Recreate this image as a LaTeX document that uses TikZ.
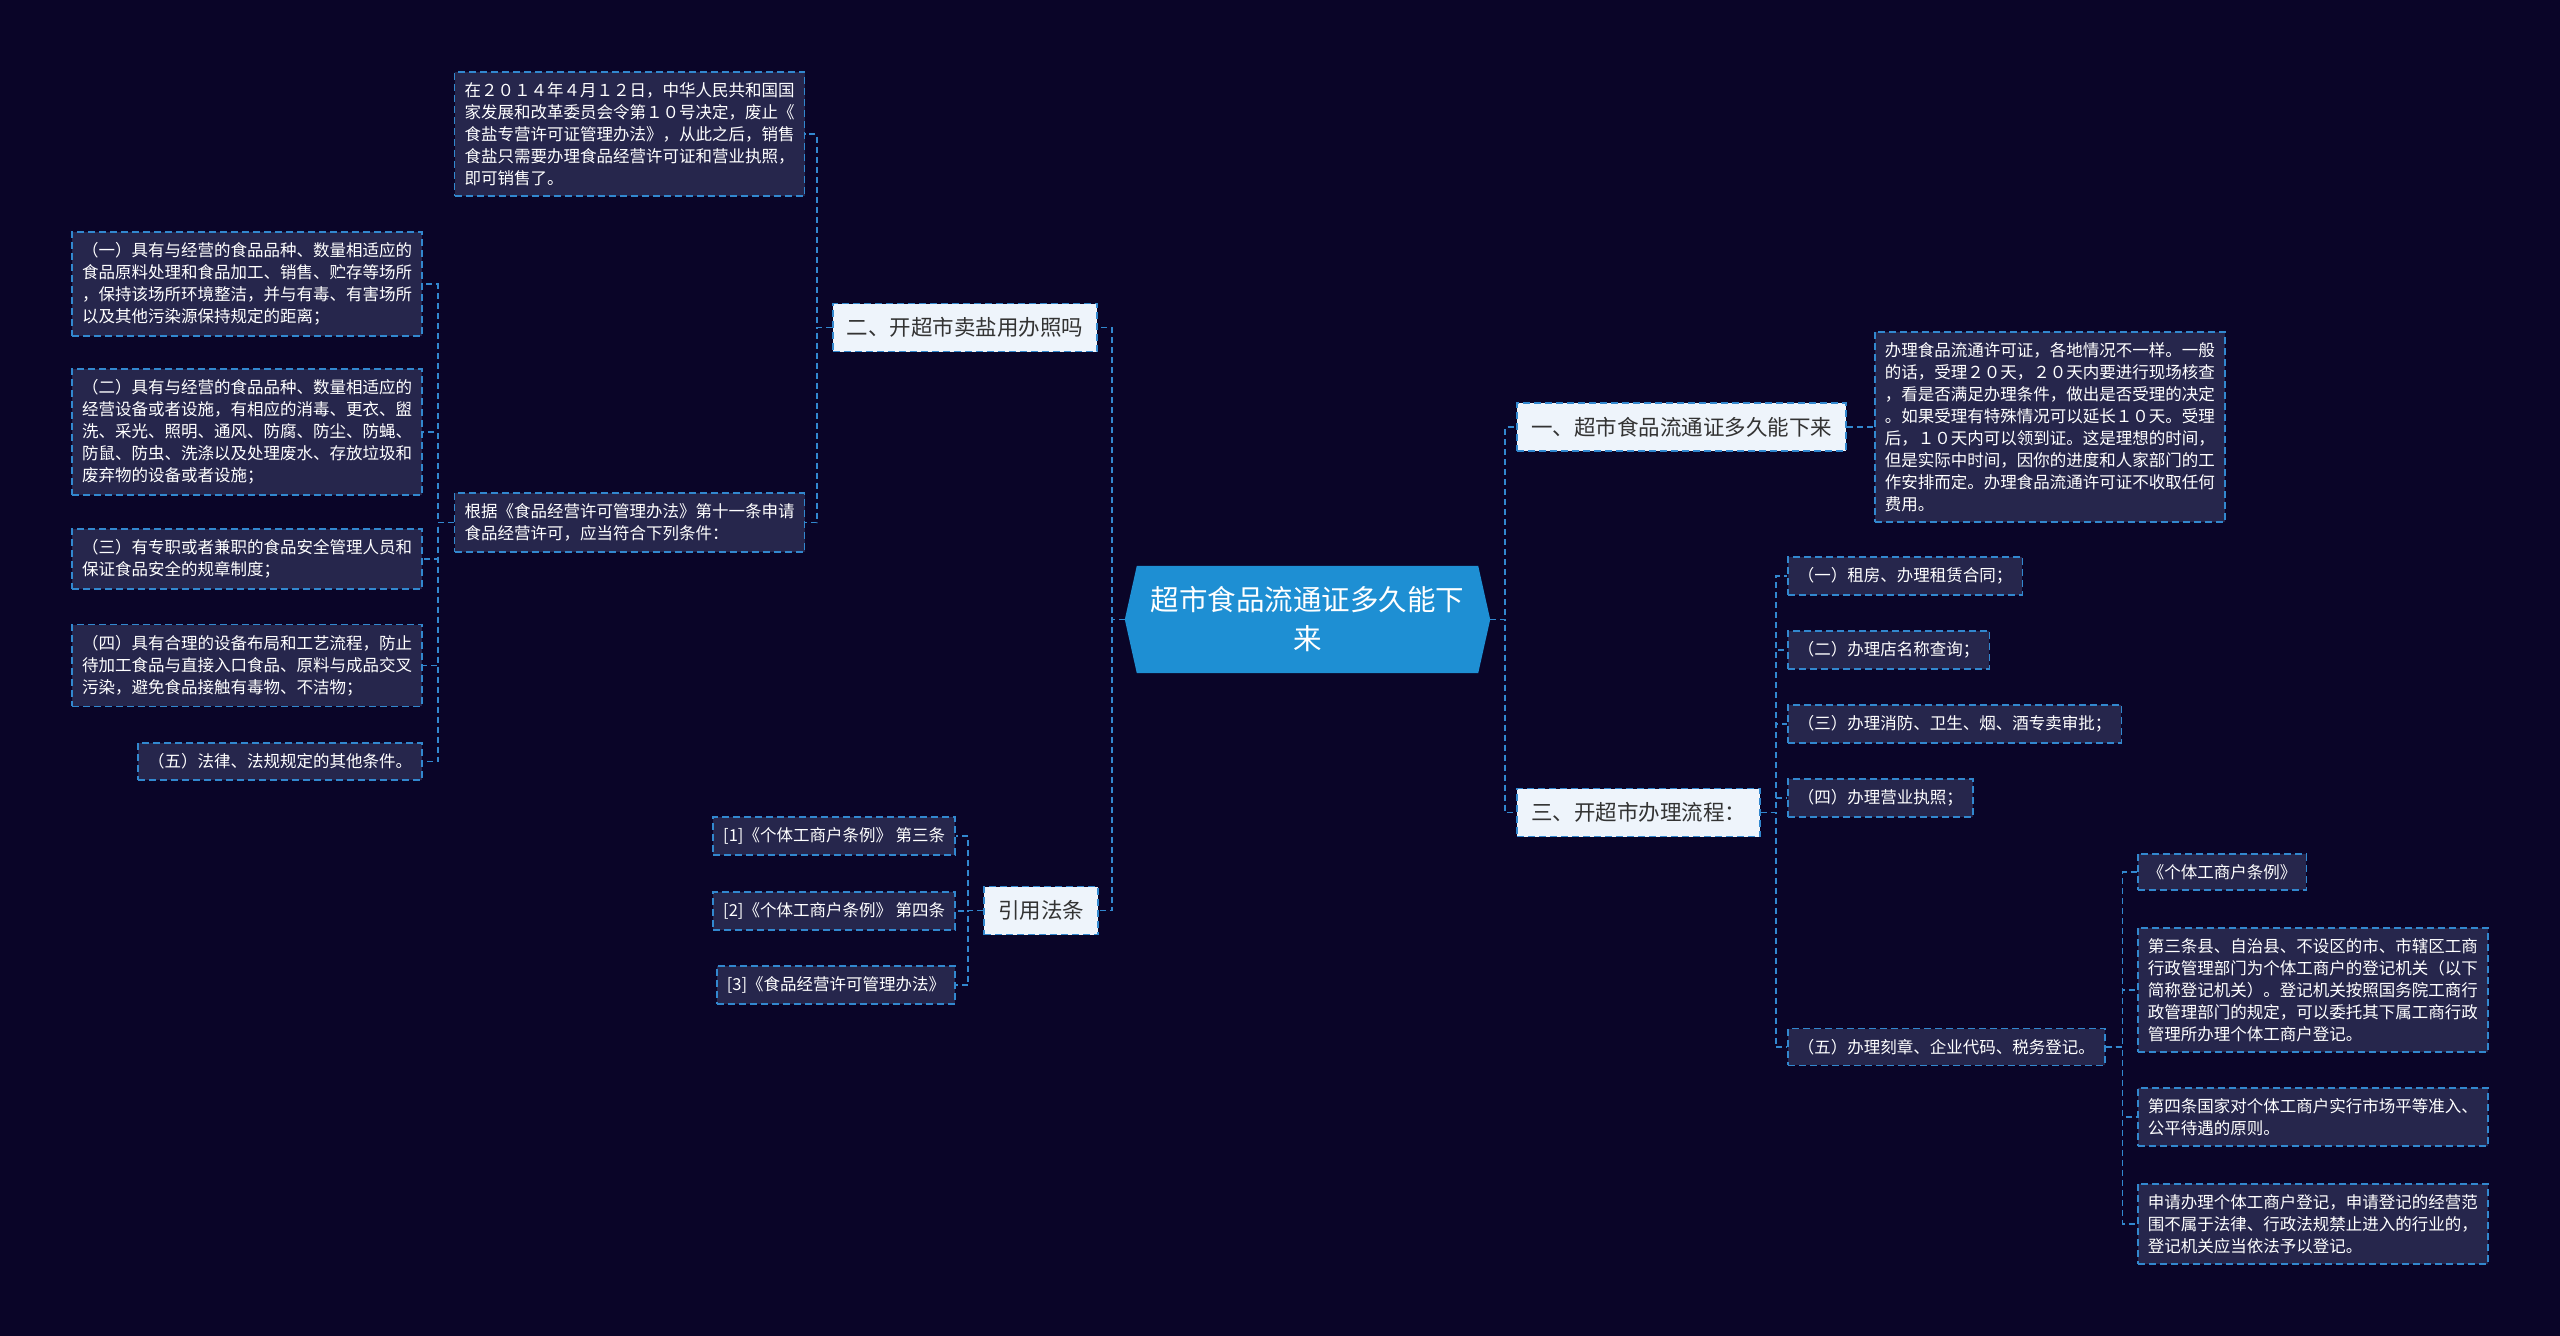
\documentclass[tikz,border=0pt]{standalone}
\usepackage{fontspec}
\setmainfont{Noto Sans CJK SC}
\usetikzlibrary{backgrounds}
\definecolor{bgc}{HTML}{0A0528}
\definecolor{lnc}{HTML}{3288CF}
\definecolor{leafc}{HTML}{26264C}
\definecolor{brc}{HTML}{EEF4FB}
\definecolor{ctc}{HTML}{1E8FD3}
\definecolor{txc}{HTML}{333333}
\begin{document}
\begin{tikzpicture}[x=1pt,y=-1pt,
  conn/.style={draw=lnc, line width=1.6pt, dash pattern=on 6pt off 4pt},
  leafbox/.style={draw=lnc, line width=1.6pt, dash pattern=on 7pt off 4pt, fill=leafc, text=white, align=left, inner xsep=10pt, inner ysep=10.5pt, font=\fontsize{16.5}{22}\selectfont},
  branchbox/.style={draw=lnc, line width=1.6pt, dash pattern=on 7pt off 4pt, fill=brc, text=txc, inner xsep=14pt, minimum height=48pt, font=\fontsize{21.5}{25}\selectfont},
  rootbox/.style={text=white, align=center, minimum width=365pt, minimum height=107pt, inner sep=0pt, font=\fontsize{28.5}{39}\selectfont}
]
\begin{scope}[on background layer]
  \fill[bgc] (0,0) rectangle (2560,1336);
\end{scope}
\useasboundingbox (0,0) rectangle (2560,1336);

% root
\node[rootbox] (root) at (1307.5,619.5) {超市食品流通证多久能下\\来};
\begin{scope}[on background layer]
  \fill[ctc] (root.west) -- ([xshift=12pt]root.north west) -- ([xshift=-12pt]root.north east) -- (root.east) -- ([xshift=-12pt]root.south east) -- ([xshift=12pt]root.south west) -- cycle;
\end{scope}

% branches
\node[branchbox] (b2) at (965,327.5) {二、开超市卖盐用办照吗};
\node[branchbox] (b4) at (1041,910.5) {引用法条};
\node[branchbox] (b1) at (1681.5,427) {一、超市食品流通证多久能下来};
\node[branchbox] (b3) at (1638.5,812.5) {三、开超市办理流程：};

% left leaves
\node[leafbox] (top) at (629.5,134) {在２０１４年４月１２日，中华人民共和国国\\家发展和改革委员会令第１０号决定，废止《\\食盐专营许可证管理办法》，从此之后，销售\\食盐只需要办理食品经营许可证和营业执照，\\即可销售了。};
\node[leafbox] (gen) at (629.5,522.5) {根据《食品经营许可管理办法》第十一条申请\\食品经营许可，应当符合下列条件：};

\node[leafbox, anchor=east] (L1) at (423,284) {（一）具有与经营的食品品种、数量相适应的\\食品原料处理和食品加工、销售、贮存等场所\\，保持该场所环境整洁，并与有毒、有害场所\\以及其他污染源保持规定的距离；};
\node[leafbox, anchor=east] (L2) at (423,432) {（二）具有与经营的食品品种、数量相适应的\\经营设备或者设施，有相应的消毒、更衣、盥\\洗、采光、照明、通风、防腐、防尘、防蝇、\\防鼠、防虫、洗涤以及处理废水、存放垃圾和\\废弃物的设备或者设施；};
\node[leafbox, anchor=east] (L3) at (423,559) {（三）有专职或者兼职的食品安全管理人员和\\保证食品安全的规章制度；};
\node[leafbox, anchor=east] (L4) at (423,665.5) {（四）具有合理的设备布局和工艺流程，防止\\待加工食品与直接入口食品、原料与成品交叉\\污染，避免食品接触有毒物、不洁物；};
\node[leafbox, anchor=east] (L5) at (423,761.5) {（五）法律、法规规定的其他条件。};

\node[leafbox, anchor=east] (R1) at (956,836) {[1]《个体工商户条例》 第三条};
\node[leafbox, anchor=east] (R2) at (956,911) {[2]《个体工商户条例》 第四条};
\node[leafbox, anchor=east] (R3) at (956,985) {[3]《食品经营许可管理办法》};

% right leaves
\node[leafbox, anchor=west] (rl) at (1874,427) {办理食品流通许可证，各地情况不一样。一般\\的话，受理２０天，２０天内要进行现场核查\\，看是否满足办理条件，做出是否受理的决定\\。如果受理有特殊情况可以延长１０天。受理\\后，１０天内可以领到证。这是理想的时间，\\但是实际中时间，因你的进度和人家部门的工\\作安排而定。办理食品流通许可证不收取任何\\费用。};

\node[leafbox, anchor=west] (S1) at (1787,576) {（一）租房、办理租赁合同；};
\node[leafbox, anchor=west] (S2) at (1787,650) {（二）办理店名称查询；};
\node[leafbox, anchor=west] (S3) at (1787,724) {（三）办理消防、卫生、烟、酒专卖审批；};
\node[leafbox, anchor=west] (S4) at (1787,798) {（四）办理营业执照；};
\node[leafbox, anchor=west] (S5) at (1787,1047) {（五）办理刻章、企业代码、税务登记。};

\node[leafbox, anchor=west] (T1) at (2137,872) {《个体工商户条例》};
\node[leafbox, anchor=west] (T2) at (2137,990) {第三条县、自治县、不设区的市、市辖区工商\\行政管理部门为个体工商户的登记机关（以下\\简称登记机关）。登记机关按照国务院工商行\\政管理部门的规定，可以委托其下属工商行政\\管理所办理个体工商户登记。};
\node[leafbox, anchor=west] (T3) at (2137,1117) {第四条国家对个体工商户实行市场平等准入、\\公平待遇的原则。};
\node[leafbox, anchor=west] (T4) at (2137,1224) {申请办理个体工商户登记，申请登记的经营范\\围不属于法律、行政法规禁止进入的行业的，\\登记机关应当依法予以登记。};

% connectors
\draw[conn] (root.west) -- ++(-13,0) |- (b2.east);
\draw[conn] (root.west) -- ++(-13,0) |- (b4.east);
\draw[conn] (root.east) -- ++(15,0) |- (b1.west);
\draw[conn] (root.east) -- ++(15,0) |- (b3.west);

\draw[conn] (b2.west) -- ++(-15,0) |- (top.east);
\draw[conn] (b2.west) -- ++(-15,0) |- (gen.east);

\foreach \n in {L1,L2,L3,L4,L5}
  \draw[conn] (gen.west) -- ++(-16,0) |- (\n.east);

\foreach \n in {R1,R2,R3}
  \draw[conn] (b4.west) -- ++(-15,0) |- (\n.east);

\draw[conn] (b1.east) -- (rl.west);

\foreach \n in {S1,S2,S3,S4,S5}
  \draw[conn] (b3.east) -- ++(15,0) |- (\n.west);

\foreach \n in {T1,T2,T3,T4}
  \draw[conn] (S5.east) -- ++(17,0) |- (\n.west);
\end{tikzpicture}
\end{document}
